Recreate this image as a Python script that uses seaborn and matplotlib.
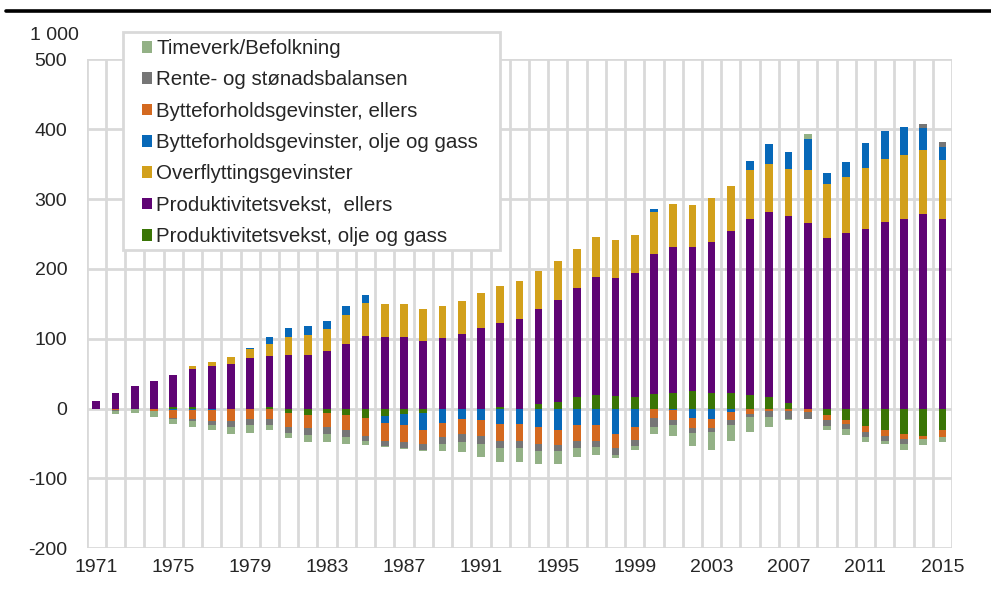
import numpy as np
import pandas as pd
import matplotlib
matplotlib.use("Agg")
import matplotlib.pyplot as plt
from matplotlib.patches import Patch, Rectangle
from matplotlib.lines import Line2D
import seaborn as sns

# --- data ---
years = list(range(1971, 2016))

prod_olje = [0, 0, 0, 0, 2, 2, 0, 0, 0, 2,
             -7, -9, -7, -9, -13, -10, -8, -7, 0, 0,
             0, 2, 0, 6, 10, 16, 19, 18, 17, 21,
             23, 25, 23, 23, 19, 17, 8, 0, -9, -17,
             -25, -31, -37, -39, -30]
prod_ellers = [11, 22, 32, 39, 46, 55, 61, 64, 72, 73,
               77, 76, 82, 93, 104, 103, 102, 97, 101, 107,
               115, 121, 128, 136, 146, 157, 170, 169, 177, 200,
               208, 207, 215, 231, 252, 265, 268, 266, 244, 251,
               257, 267, 271, 278, 271]
overflytting = [0, 0, 0, 0, 0, 4, 5, 10, 13, 18,
                26, 29, 32, 41, 47, 46, 47, 45, 46, 47,
                51, 52, 55, 55, 55, 56, 56, 54, 55, 60,
                62, 60, 63, 65, 70, 68, 67, 76, 78, 81,
                87, 90, 92, 92, 85]
bytte_olje = [0, 0, 0, -1, -2, -2, -2, 0, 2, 9,
              13, 13, 12, 13, 12, -11, -16, -23, -20, -15,
              -17, -22, -22, -27, -31, -24, -24, -36, -27, 4,
              -2, -14, -15, -5, 13, 29, 24, 44, 15, 21,
              36, 41, 40, 32, 19]
bytte_ellers = [0, -2, 0, -2, -11, -13, -16, -18, -15, -15,
                -19, -19, -20, -22, -26, -25, -24, -20, -21, -22,
                -22, -24, -24, -24, -21, -22, -22, -21, -18, -14,
                -14, -14, -13, -12, -8, -4, -4, -5, -8, -5,
                -8, -8, -6, -5, -10]
rente = [0, -1, 0, -1, -1.5, -2.5, -5, -8, -8, -8,
         -9, -10, -10, -10, -7, -8, -8, -9, -10, -11,
         -12, -10, -11, -10, -9, -10, -9, -9, -9, -13,
         -8, -7, -6, -7, -4, -8, -11, -10, -8, -7,
         -8, -7, -8, 5, 6]
timeverk = [-1, -5, -7, -8, -7, -9, -8, -10, -12, -8,
            -7, -10, -11, -10, -6, -1, -2, -2, -10, -14,
            -18, -20, -19, -18, -18, -14, -11, -5, -5, -9,
            -15, -18, -26, -23, -21, -15, -1, 7, -5, -9,
            -7, -5, -9, -8, -8]

# stacking order (bottom -> top), legend shows it reversed
series_names = [
    "Produktivitetsvekst, olje og gass",
    "Produktivitetsvekst,  ellers",
    "Overflyttingsgevinster",
    "Bytteforholdsgevinster, olje og gass",
    "Bytteforholdsgevinster, ellers",
    "Rente- og stønadsbalansen",
    "Timeverk/Befolkning",
]
series_values = [prod_olje, prod_ellers, overflytting, bytte_olje,
                 bytte_ellers, rente, timeverk]
series_colors = ["#3A7506", "#5F0474", "#D2A01B", "#0768B8",
                 "#D4691F", "#767676", "#93B186"]

tick_years = list(range(1971, 2016, 4))

# --- plot ---
sns.set_style("white")
plt.rcParams["font.family"] = ["Liberation Sans", "DejaVu Sans"]
plt.rcParams["axes.unicode_minus"] = False

fig = plt.figure(figsize=(9.91, 5.89), dpi=100)
W, H = 991, 589
ax = fig.add_axes([86.7 / W, 1 - 548.3 / H, (952 - 86.7) / W, (548.3 - 59.3) / H])

labels = [str(y) for y in years]
pos_base = np.zeros(len(years))
neg_base = np.zeros(len(years))
for name, vals, col in zip(series_names, series_values, series_colors):
    v = np.array(vals, dtype=float)
    base = np.where(v >= 0, pos_base, neg_base)
    sns.barplot(x=labels, y=v, order=labels, bottom=base, color=col,
                saturation=1, width=0.4, errorbar=None, linewidth=0,
                ax=ax, zorder=2)
    pos_base = pos_base + np.clip(v, 0, None)
    neg_base = neg_base + np.clip(v, None, 0)

ax.set_xlim(-0.5, len(years) - 0.5)
ax.set_ylim(-200, 500)
ax.set_yticks(range(-200, 501, 100))
ax.set_xticks([years.index(y) for y in tick_years])
ax.set_xticklabels([str(y) for y in tick_years])
ax.set_xticks(np.arange(-0.5, len(years), 1), minor=True)
ax.set_xlabel("")
ax.set_ylabel("")

ax.set_axisbelow(True)
ax.grid(axis="y", which="major", color="#D9D9D9", linewidth=2)
ax.grid(axis="x", which="minor", color="#D9D9D9", linewidth=2)
ax.grid(axis="x", which="major", visible=False)
for s in ax.spines.values():
    s.set_visible(False)
ax.tick_params(axis="y", length=0, pad=14, labelsize=14)
ax.tick_params(axis="x", which="both", length=0, pad=8, labelsize=14)

# odd extra label above the axis
fig.text(79 / W, 1 - 35 / H, "1 000", ha="right", va="center", fontsize=14)

# legend box + entries
ax.add_patch(Rectangle((123 / W, 1 - 250 / H), (500 - 123) / W, (250 - 32) / H,
                       transform=fig.transFigure, facecolor="white",
                       edgecolor="#D9D9D9", linewidth=2, clip_on=False, zorder=4))
handles = [Patch(facecolor=c, edgecolor="none")
           for c in reversed(series_colors)]
ax.legend(handles, list(reversed(series_names)), loc="upper left",
          bbox_to_anchor=(142 / W, 1 - 39 / H), bbox_transform=fig.transFigure,
          frameon=False, fontsize=14.8, borderpad=0, borderaxespad=0,
          handlelength=0.5, handleheight=0.5, handletextpad=0.2,
          labelspacing=0.6)

# thick rule at the top
fig.add_artist(Line2D([6 / W, 1], [1 - 10.5 / H, 1 - 10.5 / H],
                      transform=fig.transFigure, color="black", linewidth=2.6))

fig.savefig("out.png", dpi=100)
